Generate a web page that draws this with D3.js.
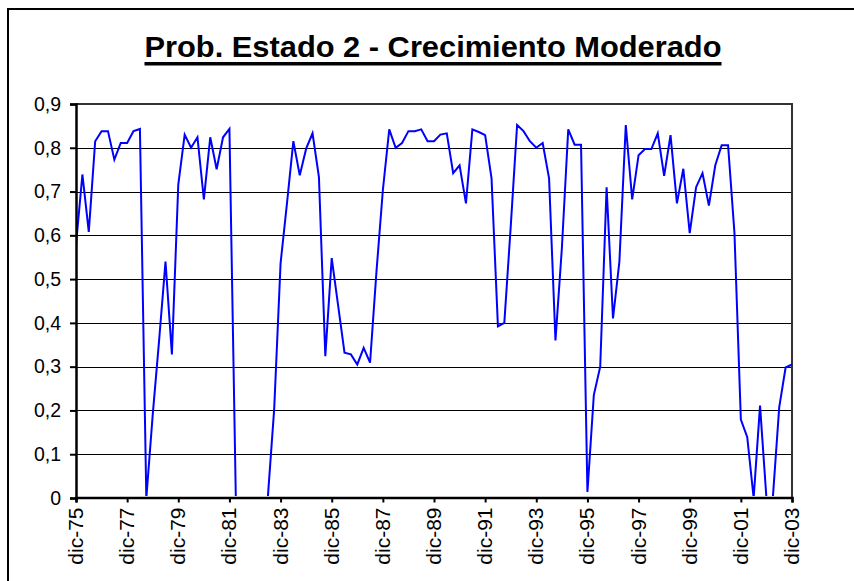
<!DOCTYPE html>
<html>
<head>
<meta charset="utf-8">
<script src="https://cdn.jsdelivr.net/npm/d3@7"></script>
<style>
  body { margin: 0; background: #fff; }
  svg { display: block; font-family: "Liberation Sans", Arial, sans-serif; }
</style>
</head>
<body>
<div id="chart"></div>
<script>
// --- Data ---
const TITLE = 'Prob. Estado 2 - Crecimiento Moderado';

// quarterly probabilities, dic-75 .. dic-03
const probValues = [
  0.578, 0.739, 0.608, 0.815, 0.838, 0.838, 0.773, 0.811, 0.811, 0.838,
  0.843, 0.000, 0.190, 0.360, 0.540, 0.328, 0.716, 0.830, 0.800, 0.824,
  0.682, 0.824, 0.751, 0.824, 0.843, 0.000, 0.000, 0.000, 0.000, 0.000,
  0.000, 0.203, 0.536, 0.673, 0.815, 0.737, 0.798, 0.833, 0.733, 0.324,
  0.548, 0.440, 0.332, 0.328, 0.305, 0.343, 0.309, 0.517, 0.703, 0.842,
  0.800, 0.811, 0.838, 0.838, 0.842, 0.815, 0.815, 0.830, 0.833, 0.742,
  0.760, 0.673, 0.842, 0.836, 0.829, 0.730, 0.392, 0.400, 0.620, 0.852,
  0.838, 0.815, 0.800, 0.811, 0.730, 0.360, 0.570, 0.842, 0.807, 0.807,
  0.014, 0.235, 0.300, 0.710, 0.410, 0.540, 0.852, 0.682, 0.783, 0.797,
  0.797, 0.833, 0.736, 0.829, 0.673, 0.752, 0.605, 0.710, 0.742, 0.668,
  0.760, 0.806, 0.806, 0.605, 0.179, 0.139, 0.000, 0.211, 0.000, 0.000,
  0.207, 0.298, 0.305
];

const quarterMonths = ['dic', 'mar', 'jun', 'sep'];
const xTickLabels = ['dic-75', 'dic-77', 'dic-79', 'dic-81', 'dic-83', 'dic-85', 'dic-87',
  'dic-89', 'dic-91', 'dic-93', 'dic-95', 'dic-97', 'dic-99', 'dic-01', 'dic-03'];
const yTickValues = [0, 0.1, 0.2, 0.3, 0.4, 0.5, 0.6, 0.7, 0.8, 0.9];
const yTickLabels = ['0', '0,1', '0,2', '0,3', '0,4', '0,5', '0,6', '0,7', '0,8', '0,9'];

// category names: one per quarter, starting at dic-75
const categories = probValues.map((_, i) => {
  const month = quarterMonths[i % 4];
  const year = 75 + Math.ceil(i / 4);
  return `${month}-${String(year % 100).padStart(2, '0')}`;
});

// --- Layout ---
const WIDTH = 854, HEIGHT = 581;
const plot = { left: 76, top: 104, right: 792, bottom: 498 };

const svg = d3.select('#chart').append('svg')
  .attr('width', WIDTH)
  .attr('height', HEIGHT);

// outer chart frame (runs off the right and bottom edges)
svg.append('rect')
  .attr('x', 8).attr('y', 9)
  .attr('width', 900).attr('height', 640)
  .attr('fill', 'none')
  .attr('stroke', '#000')
  .attr('stroke-width', 2);

// title
const title = svg.append('text')
  .attr('x', 433)
  .attr('y', 57)
  .attr('text-anchor', 'middle')
  .attr('font-size', 30)
  .attr('font-weight', 'bold')
  .attr('fill', '#000')
  .attr('textLength', 577)
  .attr('lengthAdjust', 'spacingAndGlyphs')
  .text(TITLE);

svg.append('rect')
  .attr('x', 433 - 577 / 2)
  .attr('y', 62)
  .attr('width', 577)
  .attr('height', 3.5)
  .attr('fill', '#000');

// --- Scales ---
const x = d3.scalePoint()
  .domain(categories)
  .range([plot.left, plot.right]);

const y = d3.scaleLinear()
  .domain([0, 0.9])
  .range([plot.bottom, plot.top]);

// gridlines
svg.append('g')
  .selectAll('line')
  .data(yTickValues.filter(v => v > 0 && v < 0.9))
  .join('line')
  .attr('x1', plot.left).attr('x2', plot.right)
  .attr('y1', d => Math.round(y(d)) + 0.5)
  .attr('y2', d => Math.round(y(d)) + 0.5)
  .attr('stroke', '#000')
  .attr('stroke-width', 1);

// plot border (top + right)
svg.append('path')
  .attr('d', `M${plot.left},${plot.top}H${plot.right}V${plot.bottom}`)
  .attr('fill', 'none')
  .attr('stroke', '#333')
  .attr('stroke-width', 2);

// the line hides behind the category axis where it sits at zero
svg.append('clipPath')
  .attr('id', 'plot-clip')
  .append('rect')
  .attr('x', plot.left)
  .attr('y', plot.top - 4)
  .attr('width', plot.right - plot.left + 2)
  .attr('height', plot.bottom - plot.top + 2);

// series line
const line = d3.line()
  .x((d, i) => x(categories[i]))
  .y(d => y(d));

svg.append('path')
  .datum(probValues)
  .attr('clip-path', 'url(#plot-clip)')
  .attr('d', line)
  .attr('fill', 'none')
  .attr('stroke', '#0000ff')
  .attr('stroke-width', 2)
  .attr('stroke-linejoin', 'miter');

// --- Axes ---
const yAxis = d3.axisLeft(y)
  .tickValues(yTickValues)
  .tickFormat((d, i) => yTickLabels[i])
  .tickSize(6)
  .tickPadding(9);

const yG = svg.append('g')
  .attr('transform', `translate(${plot.left},0)`)
  .call(yAxis);

const xAxis = d3.axisBottom(x)
  .tickValues(xTickLabels)
  .tickSize(5)
  .tickPadding(8);

const xG = svg.append('g')
  .attr('transform', `translate(0,${plot.bottom - 0.5})`)
  .call(xAxis);

[yG, xG].forEach(g => {
  g.select('.domain').attr('stroke', '#000').attr('stroke-width', 2.5);
  g.selectAll('.tick line').attr('stroke', '#000').attr('stroke-width', 2);
  g.selectAll('.tick text')
    .attr('fill', '#000')
    .attr('font-family', '"Liberation Sans", Arial, sans-serif');
});

yG.selectAll('.tick text').attr('font-size', 19.5);

xG.selectAll('.tick text')
  .attr('font-size', 21)
  .attr('text-anchor', 'end')
  .attr('transform', 'rotate(-90)')
  .attr('x', -10)
  .attr('y', -1)
  .attr('dy', '0.36em');
</script>
</body>
</html>
